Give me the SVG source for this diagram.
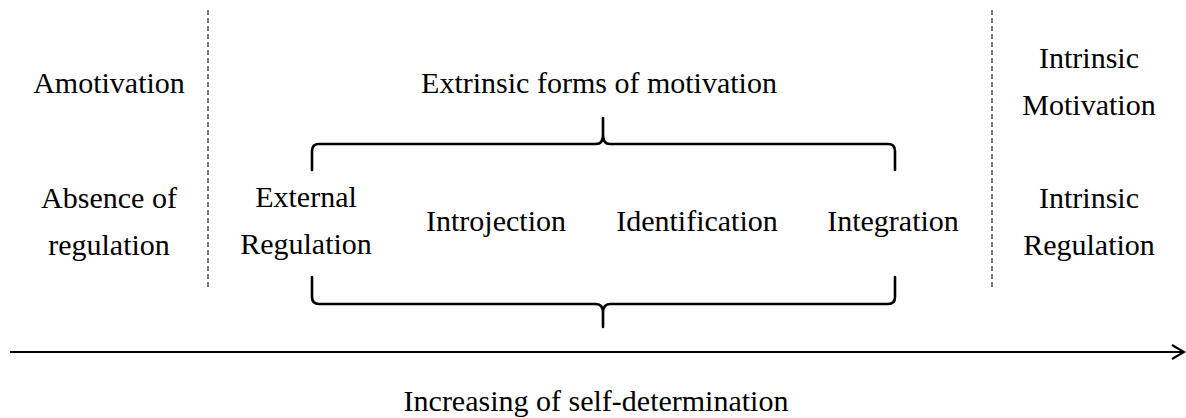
<svg xmlns="http://www.w3.org/2000/svg" width="1186" height="418" viewBox="0 0 1186 418">
<style>
text{font-family:"Liberation Serif","Times New Roman",serif;font-size:30px;fill:#000;text-anchor:middle}
.div{stroke:#333;stroke-width:1.3;stroke-dasharray:5 3;fill:none}
.brace{stroke:#000;stroke-width:2.6;fill:none;stroke-linecap:round;stroke-linejoin:round}
.axis{stroke:#000;stroke-width:2.2;fill:none}
</style>
<rect width="1186" height="418" fill="#fff"/>
<g id="amotivation">
<text x="109" y="93">Amotivation</text>
<text x="109" y="208">Absence of</text>
<text x="109" y="255">regulation</text>
</g>
<g id="extrinsic">
<text x="599" y="93">Extrinsic forms of motivation</text>
</g>
<g id="external">
<text x="306" y="207">External</text>
<text x="306" y="254">Regulation</text>
</g>
<g id="introjection"><text x="496" y="231">Introjection</text></g>
<g id="identification"><text x="697" y="231">Identification</text></g>
<g id="integration"><text x="893" y="231">Integration</text></g>
<g id="intrinsic">
<text x="1089" y="68">Intrinsic</text>
<text x="1089" y="115">Motivation</text>
<text x="1089" y="208">Intrinsic</text>
<text x="1089" y="255">Regulation</text>
</g>
<g id="axis-label"><text x="596" y="411">Increasing of self-determination</text></g>
<g id="connectors">
<line class="div" x1="208" y1="10" x2="208" y2="290"/>
<line class="div" x1="992" y1="10" x2="992" y2="290"/>
<path class="brace" d="M312,170 L312,151 Q312,144 319,144 L596,144 Q603,144 603,135 L603,118 M603,135 Q603,144 610,144 L888,144 Q895,144 895,151 L895,170"/>
<path class="brace" d="M312,277 L312,297 Q312,304 319,304 L596,304 Q603,304 603,313 L603,327 M603,313 Q603,304 610,304 L888,304 Q895,304 895,297 L895,277"/>
<line class="axis" x1="10" y1="352" x2="1183" y2="352"/>
<path class="axis" d="M1172,345 L1184,352 L1172,359" stroke-width="2.6"/>
</g>
</svg>
